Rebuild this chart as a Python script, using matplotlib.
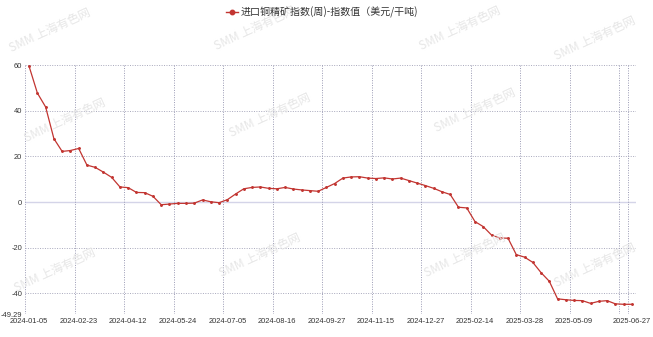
import matplotlib
matplotlib.use("Agg")
import matplotlib.pyplot as plt
from matplotlib.lines import Line2D

plt.rcParams['font.family'] = ['Liberation Sans', 'Noto Sans CJK SC', 'DejaVu Sans']

# weekly index values (USD/dmt), one per category
values = [
    59.5, 47.8, 41.7, 27.8, 22.2, 22.6, 23.5, 16.2, 15.2, 13.1,
    10.8, 6.6, 6.3, 4.2, 4.1, 2.5, -1.2, -0.9, -0.6, -0.6,
    -0.5, 0.9, 0.1, -0.3, 1.0, 3.5, 5.8, 6.4, 6.6, 6.0,
    5.8, 6.4, 5.7, 5.3, 5.0, 4.7, 6.4, 8.1, 10.5, 11.0,
    11.1, 10.5, 10.3, 10.6, 10.1, 10.5, 9.4, 8.3, 7.2, 6.0,
    4.5, 3.3, -2.3, -2.6, -8.6, -10.8, -14.5, -15.8, -15.9, -23.1,
    -24.2, -26.5, -31.0, -34.8, -42.5, -42.9, -43.2, -43.3, -44.5, -43.6,
    -43.3, -44.7, -44.9, -44.9,
]
label_idx = [0, 6, 12, 18, 24, 30, 36, 42, 48, 54, 60, 66, 73]
labels = ["2024-01-05", "2024-02-23", "2024-04-12", "2024-05-24", "2024-07-05",
          "2024-08-16", "2024-09-27", "2024-11-15", "2024-12-27", "2025-02-14",
          "2025-03-28", "2025-05-09", "2025-06-27"]
y_ticks = [-49.29, -40, -20, 0, 20, 40, 60]
y_labels = ["-49.29", "-40", "-20", "0", "20", "40", "60"]
series_name = "进口铜精矿指数(周)-指数值（美元/干吨)"

red = "#c23531"
n = len(values)

fig = plt.figure(figsize=(6.53, 3.37), dpi=100)
ax = fig.add_axes([25 / 653, 1 - 314.3 / 337, 611 / 653, (314.3 - 65.3) / 337])

# watermarks
wm_pos = [(50, 30), (255, 28), (460, 28), (595, 38),
          (65, 120), (270, 115), (475, 110),
          (55, 270), (260, 255), (465, 255), (595, 265)]
for px, py in wm_pos:
    fig.text(px / 653, 1 - py / 337, "SMM 上海有色网", rotation=25,
             ha="center", va="center", fontsize=8.5, color="#e6e6e6",
             family=['Noto Sans CJK SC', 'DejaVu Sans'], zorder=0)

# grid
for y in [60, 40, 20, -20, -40]:
    ax.axhline(y, color="#a8a8bc", lw=0.7, ls=(0, (1, 1.5)), zorder=1)
ax.axhline(0, color="#d4d4e8", lw=1.0, zorder=1)
ax.axhline(-49.29, color="#a8a8bc", lw=0.7, ls=(0, (1, 1.5)), zorder=1)
for k in list(range(0, 67, 6)) + [72, 73, 74]:
    ax.axvline(k - 0.5, color="#9a9ab4", lw=0.7, ls=(0, (1, 1.5)), zorder=1)

ax.plot(range(n), values, color=red, lw=0.9, marker="o", markersize=1.1, zorder=3)

ax.set_xlim(-0.5, n - 0.5)
ax.set_ylim(-49.29, 60)
ax.set_xticks(label_idx)
ax.set_xticklabels(labels)
ax.set_yticks(y_ticks)
ax.set_yticklabels(y_labels)
ax.tick_params(length=0, labelsize=5.4, colors="#333333")
ax.tick_params(axis="x", pad=3)
ax.tick_params(axis="y", pad=2)
for s in ax.spines.values():
    s.set_visible(False)

# legend
fig.lines.append(Line2D([226 / 653, 238 / 653], [1 - 12 / 337] * 2, color=red, lw=1.0,
                        transform=fig.transFigure))
fig.lines.append(Line2D([232 / 653], [1 - 12 / 337], color=red, marker="o", markersize=3.2,
                        transform=fig.transFigure))
fig.text(241 / 653, 1 - 12 / 337, series_name, ha="left", va="center", fontsize=7.2,
         color="#333333", family=['Noto Sans CJK SC', 'DejaVu Sans'])

fig.savefig("out.png", dpi=100)
